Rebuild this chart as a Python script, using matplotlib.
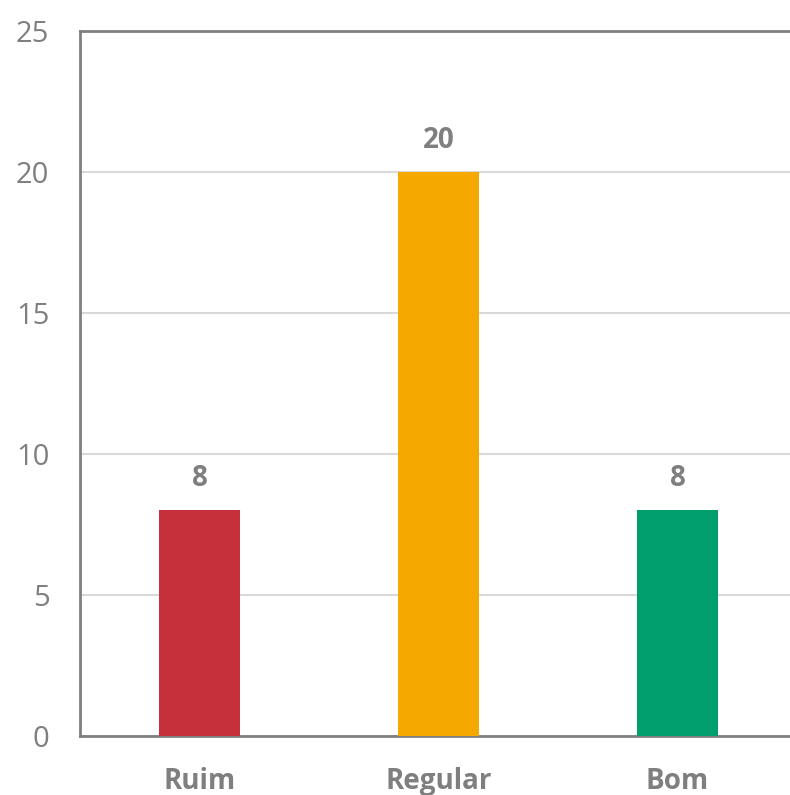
import matplotlib
matplotlib.use("Agg")
import matplotlib.pyplot as plt

categories = ["Ruim", "Regular", "Bom"]
values = [8, 20, 8]
colors = ["#C6303A", "#F5A800", "#009E6C"]
yticks = [0, 5, 10, 15, 20, 25]

plt.rcParams['font.family'] = ['Open Sans', 'DejaVu Sans']
text_gray = "#7F7F7F"

W, H = 790, 795
fig = plt.figure(figsize=(W / 100, H / 100), dpi=100)
ax = fig.add_axes([80 / W, (H - 736) / H, 717 / W, 705 / H])

x = range(len(categories))
bars = ax.bar(x, values, width=0.34, color=colors, zorder=3)

ax.set_xlim(-0.5, len(categories) - 0.5)
ax.set_ylim(0, 25)
ax.set_yticks(yticks)
ax.set_yticklabels([str(t) for t in yticks], fontsize=21, color=text_gray)
ax.set_xticks(list(x))
ax.set_xticklabels(categories, fontsize=20, fontweight='bold', color=text_gray)
ax.tick_params(axis='y', length=0, pad=22)
ax.tick_params(axis='x', length=0, pad=22)

ax.grid(axis='y', color='#D9D9D9', linewidth=1.5, zorder=0)
for side in ['left', 'top', 'bottom']:
    ax.spines[side].set_color('#808080')
    ax.spines[side].set_linewidth(2)
ax.spines['right'].set_visible(False)

for xi, v in zip(x, values):
    ax.annotate(str(v), (xi, v), xytext=(0, 23), textcoords='offset points',
                ha='center', va='center', fontsize=20, fontweight='bold',
                color=text_gray)

fig.savefig("out.png", dpi=100)
